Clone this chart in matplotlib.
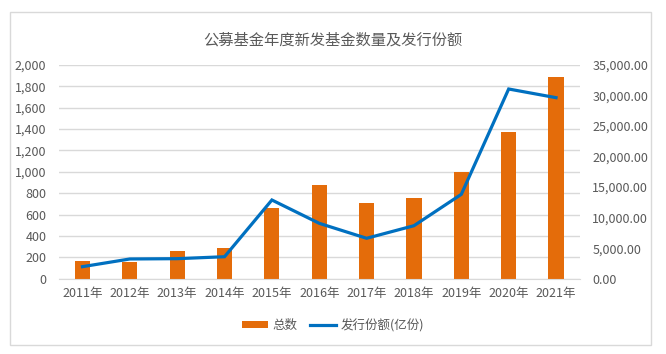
import matplotlib
matplotlib.use("Agg")
import matplotlib.pyplot as plt
from matplotlib.patches import Rectangle
from matplotlib.ticker import FuncFormatter, MultipleLocator

plt.rcParams['font.family'] = ['Noto Sans CJK SC', 'DejaVu Sans']

years = ['2011年', '2012年', '2013年', '2014年', '2015年', '2016年',
         '2017年', '2018年', '2019年', '2020年', '2021年']
counts = [166, 160, 259, 290, 665, 877, 706, 755, 1000, 1371, 1891]
shares = [1970, 3230, 3280, 3600, 12890, 9070, 6620, 8680, 13820, 31070, 29650]

title = '公募基金年度新发基金数量及发行份额'
label_bar = '总数'
label_line = '发行份额(亿份)'

txt = '#595959'
grid = '#D9D9D9'
bar_c = '#E46C0A'
line_c = '#0070C0'

fig = plt.figure(figsize=(6.66, 3.54), dpi=100)
fig.patches.append(Rectangle((10/666, 1-345/354), 641/666, 333/354, transform=fig.transFigure,
                             fill=False, edgecolor='#D9D9D9', linewidth=1))

ax = fig.add_axes([58.8/666, 1-278.7/354, (579.7-58.8)/666, (278.7-65)/354])
x = list(range(len(years)))
b = ax.bar(x, counts, width=0.32, color=bar_c, zorder=2, label=label_bar)
ax.set_xlim(-0.5, len(years)-0.5)
ax.set_ylim(0, 2000)
ax.yaxis.set_major_locator(MultipleLocator(200))
ax.yaxis.set_major_formatter(FuncFormatter(lambda v, p: f'{v:,.0f}'))
ax.set_xticks(x)
ax.set_xticklabels(years)
ax.grid(axis='y', color=grid, linewidth=1, zorder=0)
for s in ax.spines.values():
    s.set_visible(False)
ax.spines['bottom'].set_visible(True)
ax.spines['bottom'].set_color(grid)
ax.tick_params(axis='both', length=0, colors=txt, labelsize=9)
ax.tick_params(axis='y', pad=9)
ax.tick_params(axis='x', pad=6)

ax2 = ax.twinx()
l, = ax2.plot(x, shares, color=line_c, linewidth=2.3, zorder=3, label=label_line,
              solid_joinstyle='miter')
ax2.set_ylim(0, 35000)
ax2.yaxis.set_major_locator(MultipleLocator(5000))
ax2.yaxis.set_major_formatter(FuncFormatter(lambda v, p: f'{v:,.2f}'))
for s in ax2.spines.values():
    s.set_visible(False)
ax2.tick_params(axis='y', length=0, colors=txt, labelsize=9, pad=9)

fig.text(0.5, 1-40/354, title, ha='center', va='center', fontsize=11, color=txt)

fig.legend([b, l], [label_bar, label_line], loc='center', bbox_to_anchor=(0.5, 1-325.5/354),
           ncol=2, frameon=False, fontsize=9, labelcolor=txt, handlelength=2.1,
           handleheight=0.5, handletextpad=0.35, columnspacing=1.0)

fig.savefig('out.png', dpi=100)
